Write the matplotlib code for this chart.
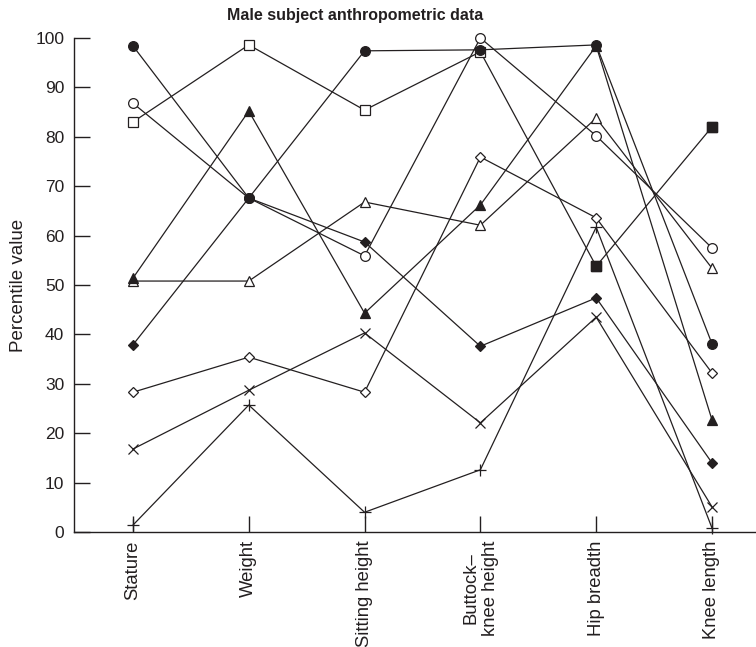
import numpy as np
import matplotlib.pyplot as plt

plt.rcParams['font.family'] = ['Liberation Sans', 'DejaVu Sans']

# Anthropometric percentile data
categories = ['Stature', 'Weight', 'Sitting height', 'Buttock\u2013\nknee height',
              'Hip breadth', 'Knee length']

filled_circle = [98.4, 67.6, 97.4, 97.6, 98.6, 38.1]
open_circle = [86.8, 67.6, 55.9, 100.0, 80.2, 57.5]
open_square = [83.0, 98.6, 85.4, 97.2, 53.8, 82.0]
filled_triangle = [51.4, 85.2, 44.3, 66.2, 98.4, 22.7]
open_triangle = [50.8, 50.8, 66.8, 62.1, 83.8, 53.4]
filled_diamond = [37.9, 67.6, 58.7, 37.6, 47.4, 14.0]
open_diamond = [28.3, 35.4, 28.3, 75.9, 63.6, 32.2]
cross = [16.8, 28.7, 40.3, 22.1, 43.5, 5.1]
plus = [1.4, 25.7, 4.0, 12.6, 61.7, 0.8]

ink = '#231f20'
x = np.arange(len(categories))

fig = plt.figure(figsize=(7.56, 6.47), dpi=100)
ax = fig.add_axes([0.0979, 0.1777, 0.9021, 0.7636])

series = [
    (plus, '+', ink, 9),
    (cross, 'x', ink, 7),
    (open_diamond, 'D', 'white', 5),
    (filled_diamond, 'D', ink, 5),
    (open_triangle, '^', 'white', 7.5),
    (filled_triangle, '^', ink, 7.5),
    (open_square, 's', 'white', 6.5),
    (open_circle, 'o', 'white', 7),
    (filled_circle, 'o', ink, 7),
]
for vals, m, fc, ms in series:
    ax.plot(x, vals, color=ink, lw=0.9, marker=m, ms=ms, mfc=fc, mec=ink,
            mew=0.9, clip_on=False)

# last two points of the square series are drawn filled
ax.plot(x[4:], open_square[4:], ls='none', marker='s', ms=6.5, mfc=ink,
        mec=ink, clip_on=False)

ax.set_xlim(-0.509, 5.38)
ax.set_ylim(0, 100)
ax.set_yticks(range(0, 101, 10))
ax.set_xticks(x)
ax.set_xticklabels(categories, rotation=90, multialignment='center')

for side in ['top', 'right']:
    ax.spines[side].set_visible(False)
for side in ['left', 'bottom']:
    ax.spines[side].set_color(ink)
    ax.spines[side].set_linewidth(1.0)

ax.tick_params(axis='both', direction='in', length=11.5, width=1.0,
               color=ink, labelcolor=ink)
ax.tick_params(axis='y', pad=7, labelsize=12.5)
ax.tick_params(axis='x', pad=6, labelsize=13.3)

ax.set_ylabel('Percentile value', fontsize=13.5, color=ink, labelpad=6)
ax.set_title('Male subject anthropometric data', fontsize=11.5,
             fontweight='bold', color=ink, pad=13, x=0.412)

plt.savefig('out.png', dpi=100)
